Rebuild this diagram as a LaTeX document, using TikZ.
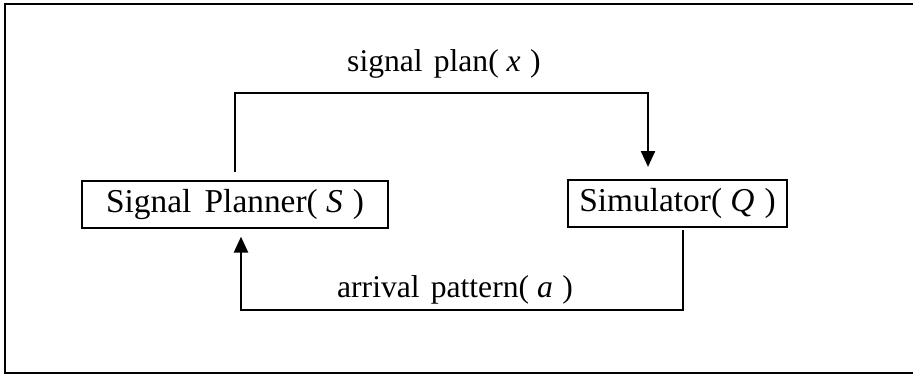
\documentclass[tikz,border=0pt]{standalone}
\usepackage{fontspec}
\setmainfont{Liberation Serif}
\usetikzlibrary{arrows.meta}

\tikzset{
  block/.style={draw, line width=0.9pt, minimum height=47*0.02cm, inner sep=0pt,
    font=\fontsize{19}{22}\selectfont},
  flow/.style={line width=1.1pt, -{Triangle[width=8pt, length=9pt]}},
  tag/.style={font=\fontsize{18}{22}\selectfont, anchor=base}
}
\newcommand{\var}[1]{\hspace{0.25em}\textit{#1}\hspace{0.3em}}

\begin{document}
\begin{tikzpicture}[x=0.02cm, y=0.02cm]
  \useasboundingbox (0,0) rectangle (913,374);
  % outer frame (open on the right)
  \draw[line width=1.3pt] (913,370) -- (5,370) -- (5,1) -- (913,1);
  % the two blocks
  \node[block, minimum width=306*0.02cm] (planner) at (235,169.5) {Signal\hspace{0.4em}Planner(\var{S})};
  \node[block, minimum width=219*0.02cm] (simulator) at (677.5,170.5) {Simulator(\var{Q})};
  % labels on the loop
  \node[tag] (plan) at (444,302) {signal\hspace{0.35em}plan(\var{x})};
  \node[tag] (arrival) at (455,76) {arrival\hspace{0.35em}pattern(\var{a})};
  % corners of the loop
  \coordinate (upL) at (235,281);
  \coordinate (upR) at (648,281);
  \coordinate (dnR) at (683,64);
  \coordinate (dnL) at (241,64);
  % planner -> simulator
  \draw[flow, shorten <=4.5pt, shorten >=7pt] (planner.north) -- (upL) -- (upR) -- (upR |- simulator.north);
  % simulator -> planner
  \draw[flow, shorten <=1.5pt, shorten >=4.5pt] (dnR |- simulator.south) -- (dnR) -- (dnL) -- (dnL |- planner.south);
\end{tikzpicture}
\end{document}
